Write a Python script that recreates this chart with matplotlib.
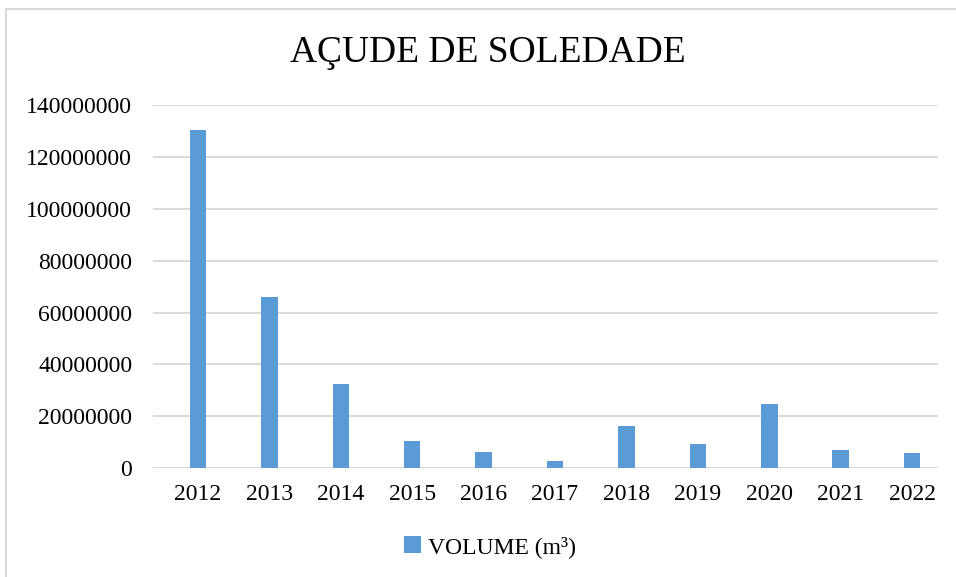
import matplotlib.pyplot as plt
from matplotlib.patches import Rectangle

anos = ['2012', '2013', '2014', '2015', '2016', '2017', '2018', '2019', '2020', '2021', '2022']
volume = [130400000, 65900000, 32500000, 10400000, 6300000, 2800000,
          16200000, 9500000, 24600000, 7200000, 5900000]
yticks = [0, 20000000, 40000000, 60000000, 80000000, 100000000, 120000000, 140000000]

plt.rcParams['font.family'] = ['Liberation Serif', 'DejaVu Serif']

fig = plt.figure(figsize=(9.56, 5.77), dpi=100)
ax = fig.add_axes([0.160, 0.1884, 0.821, 0.6296])

# moldura do grafico (cortada na direita e embaixo)
fig.patches.append(Rectangle((6 / 956, -0.05), 1.0, 1 - 9 / 577 + 0.05,
                             transform=fig.transFigure, fill=False,
                             edgecolor='#d9d9d9', linewidth=1.5))

x = list(range(len(anos)))
ax.bar(x, volume, width=0.23, color='#5B9BD5', label='VOLUME (m³)', zorder=3)

ax.set_xlim(-0.63, 10.36)
ax.set_ylim(0, 140000000)
ax.set_yticks(yticks)
ax.set_yticklabels([str(v) for v in yticks])
ax.set_xticks(x)
ax.set_xticklabels(anos)
ax.grid(axis='y', color='#d9d9d9', linewidth=1.4, zorder=0)
ax.tick_params(axis='both', length=0, labelsize=17, colors='black')
ax.tick_params(axis='y', pad=15)
ax.tick_params(axis='x', pad=11)
for s in ax.spines.values():
    s.set_visible(False)

fig.text(488 / 956, 1 - 53 / 577, 'AÇUDE DE SOLEDADE', fontsize=27,
         ha='center', va='center')

fig.legend(loc='center', bbox_to_anchor=(490 / 956, 1 - 547 / 577), frameon=False,
           fontsize=17, handlelength=0.7, handleheight=0.7, handletextpad=0.3)

fig.savefig('out.png', dpi=100)
